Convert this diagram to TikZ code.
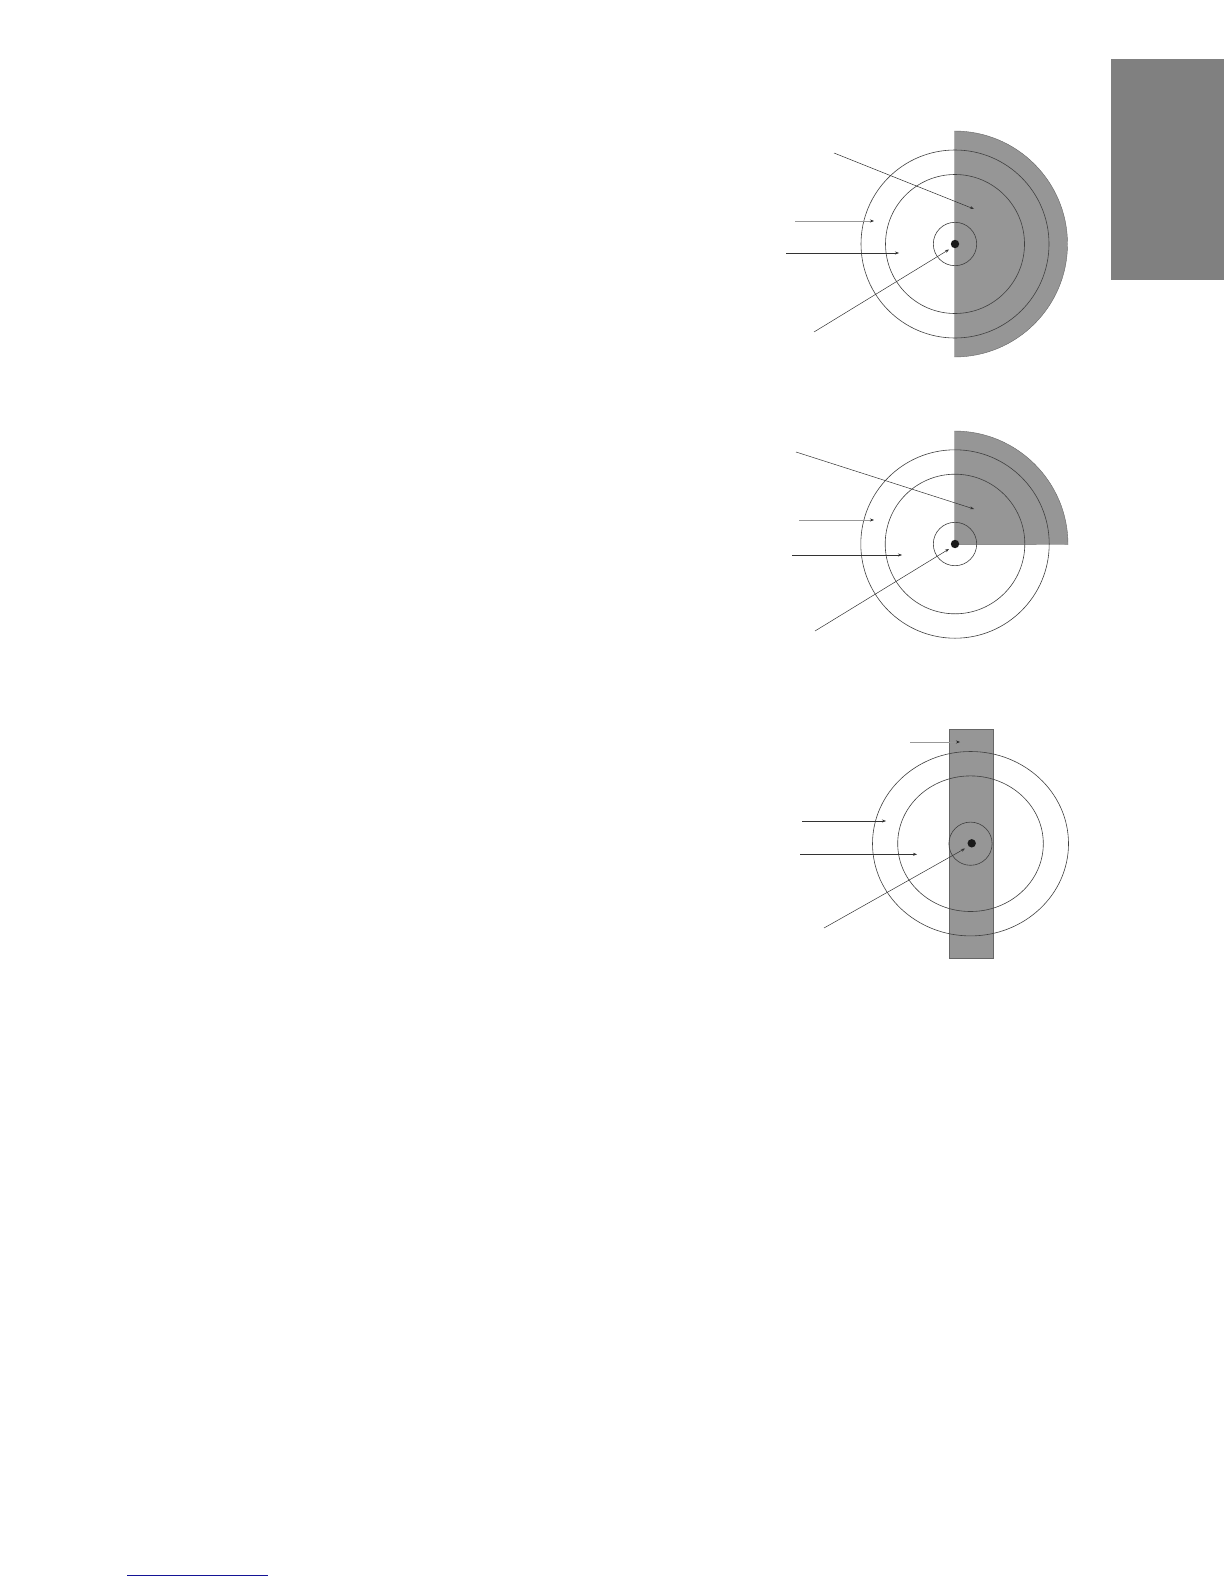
\documentclass[tikz,border=0pt]{standalone}
\usetikzlibrary{arrows.meta}
\definecolor{tabgrey}{RGB}{128,128,128}
\definecolor{fillgrey}{RGB}{150,150,150}
\definecolor{linkblue}{RGB}{20,20,150}
\begin{document}
\begin{tikzpicture}[x=1pt,y=-1pt,
  ring/.style={draw=black!75,line width=0.6pt},
  shade/.style={fill=fillgrey,draw=black!60,line width=0.4pt},
  ptr/.style={draw=black!80,line width=0.5pt,-{Stealth[length=4pt,width=3pt]}},
  lightptr/.style={draw=black!40,line width=0.7pt,-{Stealth[length=4pt,width=3pt,color=black!85]}},
  dot/.style={fill=black!90}]
\useasboundingbox (0,0) rectangle (1224,1584);
% side tab
\fill[tabgrey] (1111,59) rectangle (1224,280);
% bottom rule
\draw[linkblue,line width=1pt] (127,1575) -- (268,1575);

% ---------- Diagram 1 ----------
\coordinate (c1) at (955,244);
\fill[shade] (954.5,131) arc[start angle=90,end angle=-90,x radius=113,y radius=-113] -- cycle;
\draw[ring] (c1) circle[radius=94];
\draw[ring] (c1) circle[radius=69.5];
\draw[ring] (c1) circle[radius=21.7];
\fill[dot] (c1) circle[radius=4.2];
\coordinate (a1s) at (834,153); \coordinate (a1e) at (974,209);
\coordinate (b1s) at (795,221); \coordinate (b1e) at (874,221);
\coordinate (d1s) at (786,253); \coordinate (d1e) at (899,253);
\coordinate (e1s) at (814,332); \coordinate (e1e) at (949,249.5);
\draw[ptr] (a1s) -- (a1e);
\draw[lightptr] (b1s) -- (b1e);
\draw[ptr] (d1s) -- (d1e);
\draw[ptr] (e1s) -- (e1e);

% ---------- Diagram 2 ----------
\coordinate (c2) at (955,544);
\fill[shade] (954.5,544.3) -- (954.5,431) arc[start angle=90,end angle=0,x radius=113.5,y radius=-113.5] -- cycle;
\draw[ring] (c2) circle[radius=94.2];
\draw[ring] (c2) circle[radius=69.8];
\draw[ring] (c2) circle[radius=21.7];
\fill[dot] (c2) circle[radius=4.2];
\coordinate (a2s) at (796,452); \coordinate (a2e) at (974,509);
\coordinate (b2s) at (799,520); \coordinate (b2e) at (874,520);
\coordinate (d2s) at (792,555); \coordinate (d2e) at (902,555);
\coordinate (e2s) at (815,631); \coordinate (e2e) at (949,549);
\draw[ptr] (a2s) -- (a2e);
\draw[lightptr] (b2s) -- (b2e);
\draw[ptr] (d2s) -- (d2e);
\draw[ptr] (e2s) -- (e2e);

% ---------- Diagram 3 ----------
\coordinate (c3) at (970.5,843.7);
\fill[shade] (949.3,729) rectangle (993.3,958.3);
\draw[ring] (c3) ellipse[x radius=98,y radius=92.2];
\draw[ring] (c3) ellipse[x radius=72.8,y radius=67.8];
\draw[ring] (c3) circle[radius=21.6];
\fill[dot] (971.7,843.3) circle[radius=4.2];
\coordinate (a3s) at (910,742); \coordinate (a3e) at (960,742);
\coordinate (b3s) at (802,821); \coordinate (b3e) at (886,821);
\coordinate (d3s) at (800,854.3); \coordinate (d3e) at (917,854.3);
\coordinate (e3s) at (824,928); \coordinate (e3e) at (965,848.5);
\draw[lightptr] (a3s) -- (a3e);
\draw[ptr] (b3s) -- (b3e);
\draw[ptr] (d3s) -- (d3e);
\draw[ptr] (e3s) -- (e3e);
\end{tikzpicture}
\end{document}
